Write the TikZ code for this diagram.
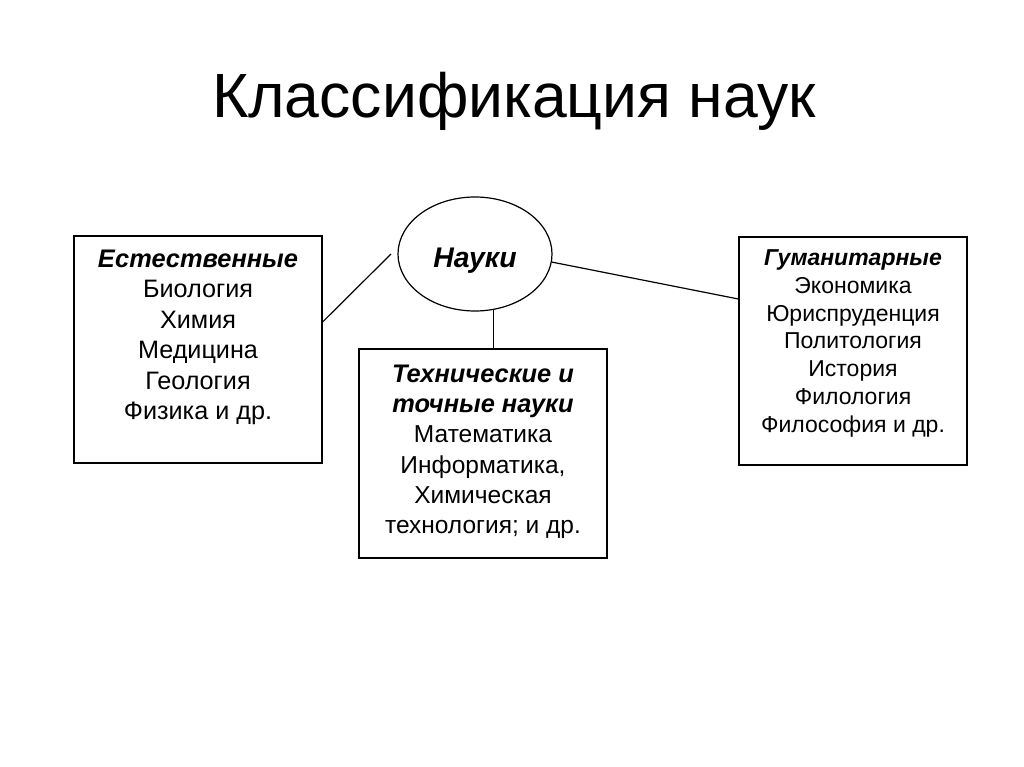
\documentclass[tikz,border=0pt]{standalone}
\usepackage{fontspec}
\setmainfont{Liberation Sans}
\usetikzlibrary{positioning,shapes.geometric}
\tikzset{
	every node/.style = {inner sep = 0},
	every text node part/.style={align=center},
	box/.style={draw, minimum width=248, minimum height=227},
	lst/.style={anchor=north, font=\fontsize{25.2}{30.5}\selectfont},
	lstmid/.style={anchor=north, font=\fontsize{24.5}{30.2}\selectfont},
	lstright/.style={anchor=north, font=\fontsize{23}{27.7}\selectfont}
}
\newcommand{\hd}[1]{\textbf{\textit{#1}}}
\newcommand{\hdbig}[1]{{\fontsize{25.4}{30}\selectfont\textbf{\textit{#1}}}}

\begin{document}
\begin{tikzpicture}[x=1pt, y=-1pt, line width=1.2pt]
		\useasboundingbox (0,0) rectangle (1024,767);
		\node(title)[anchor=north, font=\fontsize{62.5}{72}\selectfont] at (514,72) {Классификация наук};

		\node(sci)[draw, ellipse, minimum width=154, minimum height=114, text height=26, text depth=0, font=\fontsize{28.4}{32}\selectfont] at (475,254) {\hd{Науки}};

		\node(nat)[box] at (198,349.5) {};
		\node(tech)[box, minimum height=209] at (483,453.5) {};
		\node(hum)[box, minimum width=228, minimum height=228] at (853,351) {};

		% lists inside the boxes
		\node(natlist)[lst] at ([yshift=-14]nat.north) {\hdbig{Естественные}\\Биология\\Химия\\Медицина\\Геология\\Физика и др.};
		\node(techlist)[lstmid] at ([yshift=-16]tech.north) {\hdbig{Технические и}\\\hdbig{точные науки}\\Математика\\Информатика,\\Химическая\\технология; и др.};
		\node(humlist)[lstright] at ([yshift=-13]hum.north) {\hd{Гуманитарные}\\Экономика\\Юриспруденция\\Политология\\История\\Филология\\Философия и др.};

		\coordinate(natend) at (391,254);
		\draw (natend) -- ([yshift=27.5]nat.east);
		\draw (sci.-6) -- ([yshift=52]hum.west);
		\draw (sci.-72) -- (sci.-72 |- tech.north);
\end{tikzpicture}
\end{document}
